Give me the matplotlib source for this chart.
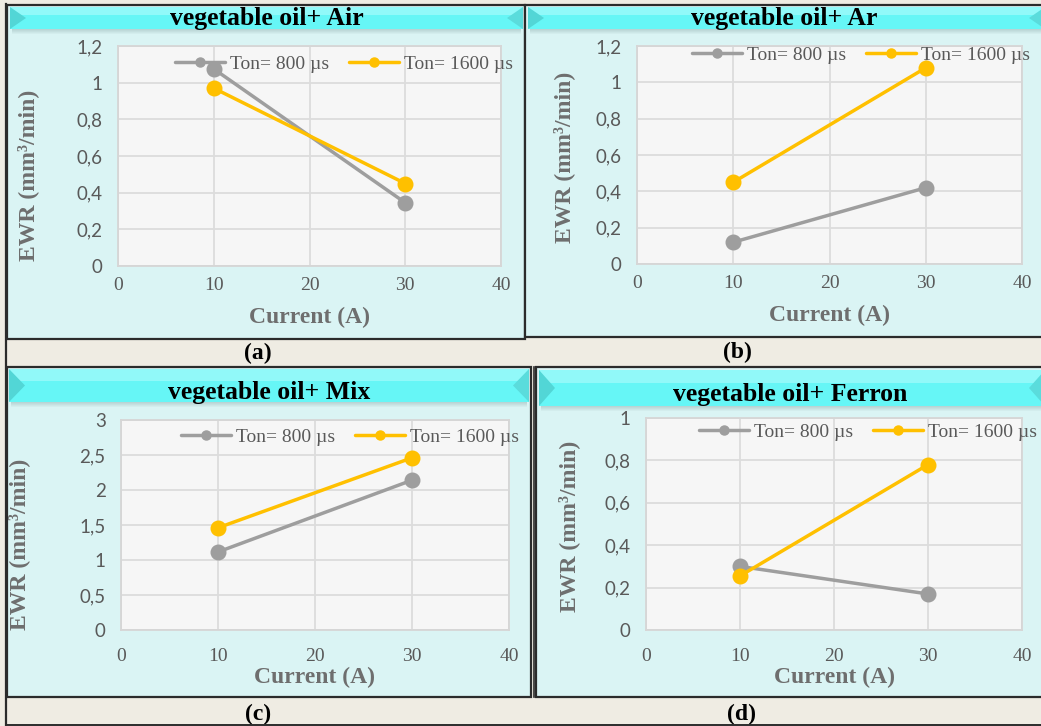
import matplotlib
matplotlib.use("Agg")
import matplotlib.pyplot as plt
from matplotlib.patches import Rectangle, Polygon
from matplotlib.ticker import FuncFormatter, MultipleLocator
import numpy as np

# ---------------- data ----------------
current = [10, 30]
series_labels = ["Ton= 800 µs", "Ton= 1600 µs"]
titles = ["vegetable oil+ Air", "vegetable oil+ Ar", "vegetable oil+ Mix", "vegetable oil+ Ferron"]
panel_tags = ["(a)", "(b)", "(c)", "(d)"]
air_800 = [1.075, 0.345]
air_1600 = [0.97, 0.45]
ar_800 = [0.12, 0.42]
ar_1600 = [0.45, 1.08]
mix_800 = [1.115, 2.14]
mix_1600 = [1.46, 2.46]
ferron_800 = [0.30, 0.17]
ferron_1600 = [0.255, 0.78]
y_max = [1.2, 1.2, 3.0, 1.0]
y_step = [0.2, 0.2, 0.5, 0.2]
x_ticks = [0, 10, 20, 30, 40]

W, H = 1041, 726
fig = plt.figure(figsize=(W / 100, H / 100), dpi=100)
fig.patch.set_facecolor("#EFECE3")

# overlay for panel decorations (pixel coords)
bg = fig.add_axes([0, 0, 1, 1], zorder=0)
bg.set_xlim(0, W)
bg.set_ylim(H, 0)
bg.axis("off")

PANEL = "#DAF4F4"
BORDER = "#2B2B2B"

# panel rectangles: x0, y0, x1, y1
panels = [(7, 5, 525, 339), (525, 5, 1045, 337), (7, 367, 531, 697), (536, 367, 1045, 697)]
banners = [(10, 7, 523, 29), (528, 7, 1045, 29), (9, 369, 529, 402), (539, 370, 1045, 406)]
title_y = [19, 19, 392, 395]
tag_pos = [(258, 353), (737, 352), (258, 714), (742, 714)]

for (x0, y0, x1, y1) in panels:
    bg.add_patch(Rectangle((x0, y0), x1 - x0, y1 - y0, facecolor=PANEL,
                           edgecolor=BORDER, lw=1.6, zorder=1))

for i, (x0, y0, x1, y1) in enumerate(banners):
    h = y1 - y0
    for k in range(5):
        bg.add_patch(Rectangle((x0 + 2, y1 + k), x1 - x0 - 4, 1,
                               facecolor="#7A9A9A", alpha=0.35 * (1 - k / 5),
                               edgecolor="none", zorder=2))
    bg.add_patch(Rectangle((x0, y0), x1 - x0, h, facecolor="#66F6F6",
                           edgecolor="none", zorder=3))
    bg.add_patch(Rectangle((x0, y0), x1 - x0, h * 0.35, facecolor="#9CFAFA",
                           edgecolor="none", alpha=0.8, zorder=3))
    bev = 16
    bg.add_patch(Polygon([(x0, y0), (x0 + bev, y0 + h / 2), (x0, y1)],
                         closed=True, facecolor="#52D6D6", edgecolor="none", zorder=4))
    bg.add_patch(Polygon([(x1, y0), (x1 - bev, y0 + h / 2), (x1, y1)],
                         closed=True, facecolor="#5ADCDC", edgecolor="none", zorder=4))
    cx = (x0 + min(x1, W)) / 2
    bg.text(cx, title_y[i], titles[i], ha="center", va="center",
            fontsize=18.5, fontweight="bold", family="Liberation Serif",
            color="black", zorder=5)

for i, (tx, ty) in enumerate(tag_pos):
    bg.text(tx, ty, panel_tags[i], ha="center", va="center", fontsize=17,
            fontweight="bold", family="Liberation Serif", color="black", zorder=5)

# outer border lines
bg.plot([6, 6], [4, 725], color=BORDER, lw=1.6, zorder=6)
bg.plot([6, W], [4.5, 4.5], color=BORDER, lw=1.4, zorder=6)
bg.plot([6, W], [725, 725], color=BORDER, lw=1.4, zorder=6)
bg.plot([533.5, 533.5], [367, 697], color=BORDER, lw=1.2, zorder=6)

# ---------------- plots ----------------
axes_px = [(118, 46, 501, 266), (637, 46, 1022, 264), (121, 420, 509, 630), (646, 418, 1022, 630)]
legend_c = [(344, 64), (861, 55), (350, 437), (868, 432)]
ylabel_c = [(-0.205, 0.41), (-0.162, 0.49), (-0.235, 0.41), (-0.176, 0.49)]
xtick_pad = [8, 8, 13, 13]
xlabel_pad = [9, 9, 1, 1]
data = [(air_800, air_1600), (ar_800, ar_1600), (mix_800, mix_1600), (ferron_800, ferron_1600)]

GRAY = "#9E9E9E"
GOLD = "#FFC000"
TXT = "#595959"


def comma_fmt(v, pos):
    s = ("%.1f" % v).rstrip("0").rstrip(".")
    return s.replace(".", ",")


for i in range(4):
    x0, y0, x1, y1 = axes_px[i]
    ax = fig.add_axes([x0 / W, 1 - y1 / H, (x1 - x0) / W, (y1 - y0) / H], zorder=2)
    ax.set_facecolor("#F6F6F6")
    s800, s1600 = data[i]
    ax.plot(current, s800, color=GRAY, lw=2.5, marker="o", ms=10.5,
            label=series_labels[0], solid_capstyle="round", zorder=3)
    ax.plot(current, s1600, color=GOLD, lw=2.5, marker="o", ms=10.5,
            label=series_labels[1], solid_capstyle="round", zorder=3)
    ax.set_xlim(0, 40)
    ax.set_ylim(0, y_max[i])
    ax.set_xticks(x_ticks)
    ax.yaxis.set_major_locator(MultipleLocator(y_step[i]))
    ax.yaxis.set_major_formatter(FuncFormatter(comma_fmt))
    ax.grid(True, color="#DCDCDC", lw=1.3)
    ax.set_axisbelow(True)
    for sp in ax.spines.values():
        sp.set_color("#D6D6D6")
        sp.set_linewidth(1.3)
    ax.tick_params(axis="both", length=0)
    ax.tick_params(axis="y", pad=11, labelsize=13.5, labelcolor=TXT)
    ax.tick_params(axis="x", pad=xtick_pad[i], labelsize=14, labelcolor=TXT)
    for lab in ax.get_yticklabels():
        lab.set_family("Lato")
    for lab in ax.get_xticklabels():
        lab.set_family("Liberation Serif")
    ax.set_xlabel("Current (A)", fontsize=17, fontweight="bold",
                  family="Liberation Serif", color="#6E6E6E", labelpad=xlabel_pad[i])
    ax.set_ylabel("EWR (mm³/min)", fontsize=17, fontweight="bold",
                  family="Liberation Serif", color="#6E6E6E")
    ax.yaxis.set_label_coords(*ylabel_c[i])
    lx, ly = legend_c[i]
    leg = ax.legend(loc="center", bbox_to_anchor=(lx / W, 1 - ly / H),
                    bbox_transform=fig.transFigure, ncol=2, frameon=False,
                    handlelength=2.6, handletextpad=0.25, columnspacing=1.0,
                    markerscale=0.62, borderpad=0, borderaxespad=0,
                    prop={"family": "Liberation Serif", "size": 14})
    for t in leg.get_texts():
        t.set_color(TXT)
    leg.set_zorder(5)

fig.savefig("out.png", dpi=100, facecolor=fig.get_facecolor())
